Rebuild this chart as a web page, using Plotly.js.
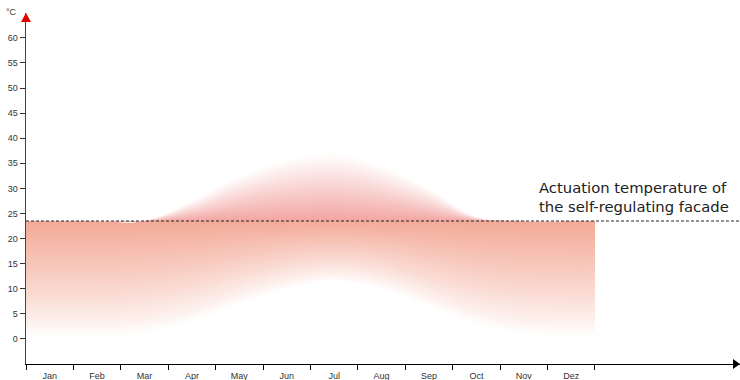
<!DOCTYPE html>
<html>
<head>
<meta charset="utf-8">
<script src="https://cdn.plot.ly/plotly-3.0.1.min.js"></script>
<style>html,body{margin:0;padding:0;background:#fff;}#chart{width:740px;height:380px;}</style>
</head>
<body>
<div id="chart"></div>
<script>
// ---- data ----
const months = ['Jan','Feb','Mar','Apr','May','Jun','Jul','Aug','Sep','Oct','Nov','Dez'];
const tempLow = [0.5, 0.5, 1.3, 3.5, 7.0, 10.0, 11.5, 10.0, 6.5, 3.0, 1.2, 0.8];
const tempHigh = [23.5, 23.5, 23.5, 27.5, 32.5, 35.8, 37.0, 34.5, 30.0, 24.3, 23.5, 23.5];
const threshold = 23.5;
const yTicks = [0,5,10,15,20,25,30,35,40,45,50,55,60];
const annotationText = 'Actuation temperature of<br>the self-regulating facade';

// ---- build positions: month centres plus the year's start and end ----
const n = months.length;
const xs = [0].concat(months.map((m,i)=>i+0.5)).concat([n]);
const ext = a => [a[0]].concat(a).concat([a[a.length-1]]);
const lowE = ext(tempLow);
const highE = ext(tempHigh);
const thrE = xs.map(()=>threshold);

const baseLow = [243,170,152];
const baseHigh = [242,165,162];
function mix(c,t){return 'rgb('+c.map(v=>Math.round(255+(v-255)*t)).join(',')+')';}

const K = 30;
const traces = [];
const common = {x: xs, mode:'lines', line:{width:0, shape:'spline', smoothing:1}, hoverinfo:'skip', showlegend:false};
// lower half: from minimum up to threshold
for(let i=0;i<K;i++){
  const f=i/K;
  const b=lowE.map((v,k)=>v+(thrE[k]-v)*f);
  const t=Math.pow((i+0.5)/K,0.85);
  traces.push(Object.assign({}, common, {y: thrE}));
  traces.push(Object.assign({}, common, {y: b, fill:'tonexty', fillcolor: mix(baseLow,t)}));
}
// upper half: from threshold up to maximum
for(let j=K;j>=1;j--){
  const f=j/K;
  const u=highE.map((v,k)=>thrE[k]+(v-thrE[k])*f);
  const t=Math.pow(1-(j-0.5)/K,1.0);
  traces.push(Object.assign({}, common, {y: thrE}));
  traces.push(Object.assign({}, common, {y: u, fill:'tonexty', fillcolor: mix(baseHigh,t)}));
}
// invisible trace to carry month labels on second x axis
traces.push({x: months.map((m,i)=>i+0.5), y: months.map(()=>threshold), xaxis:'x2', mode:'markers', marker:{opacity:0}, hoverinfo:'skip', showlegend:false});

const xMax = 15.06;
const layout = {
  width:740, height:380,
  margin:{l:26, r:0, t:13, b:16, pad:0},
  paper_bgcolor:'#fff', plot_bgcolor:'#fff',
  font:{family:'Liberation Sans, Arial, sans-serif', size:9, color:'#333'},
  xaxis:{range:[0,xMax], showgrid:false, zeroline:false, showline:true, linecolor:'#000', linewidth:1,
         tickmode:'array', tickvals: months.map((m,i)=>i).concat([n]), ticktext: months.map(()=>'').concat(['']),
         ticks:'outside', ticklen:5, tickcolor:'#000', tickwidth:1, fixedrange:true},
  xaxis2:{overlaying:'x', side:'bottom', range:[0,xMax], showgrid:false, zeroline:false, showline:false,
         tickmode:'array', tickvals: months.map((m,i)=>i+0.5), ticktext: months,
         ticks:'outside', ticklen:3, tickcolor:'rgba(0,0,0,0)', tickfont:{size:9, color:'#333'}},
  yaxis:{range:[-5,64.96], showgrid:false, zeroline:false, showline:true, linecolor:'#e00000', linewidth:1.5,
         tickmode:'array', tickvals: yTicks, ticktext: yTicks.map(String),
         ticks:'outside', ticklen:5, tickcolor:'#333', tickwidth:1, tickfont:{size:9, color:'#333'}, fixedrange:true},
  shapes:[
    {type:'line', xref:'paper', x0:0, x1:1, yref:'y', y0:threshold, y1:threshold, line:{color:'#222', width:1, dash:'3px,2px'}},
    {type:'path', xref:'paper', yref:'paper', xsizemode:'pixel', ysizemode:'pixel', xanchor:0, yanchor:1,
     path:'M-5,-9 L0,0 L5,-9 Z', fillcolor:'#e00000', line:{width:0}},
    {type:'path', xref:'paper', yref:'paper', xsizemode:'pixel', ysizemode:'pixel', xanchor:1, yanchor:0,
     path:'M-7,-5 L0,0 L-7,5 Z', fillcolor:'#000', line:{width:0}}
  ],
  annotations:[
    {xref:'paper', yref:'paper', x:0, y:1, xanchor:'right', yanchor:'middle', xshift:-7, yshift:1, text:'°C', showarrow:false, font:{size:9, color:'#333'}},
    {xref:'x', yref:'y', x:10.77, y:threshold, xanchor:'left', yanchor:'bottom', yshift:4, align:'left',
     text: annotationText, showarrow:false, font:{family:'DejaVu Sans, sans-serif', size:14.8, color:'#222'}}
  ]
};
Plotly.newPlot('chart', traces, layout, {staticPlot:true, displayModeBar:false});
</script>
</body>
</html>
